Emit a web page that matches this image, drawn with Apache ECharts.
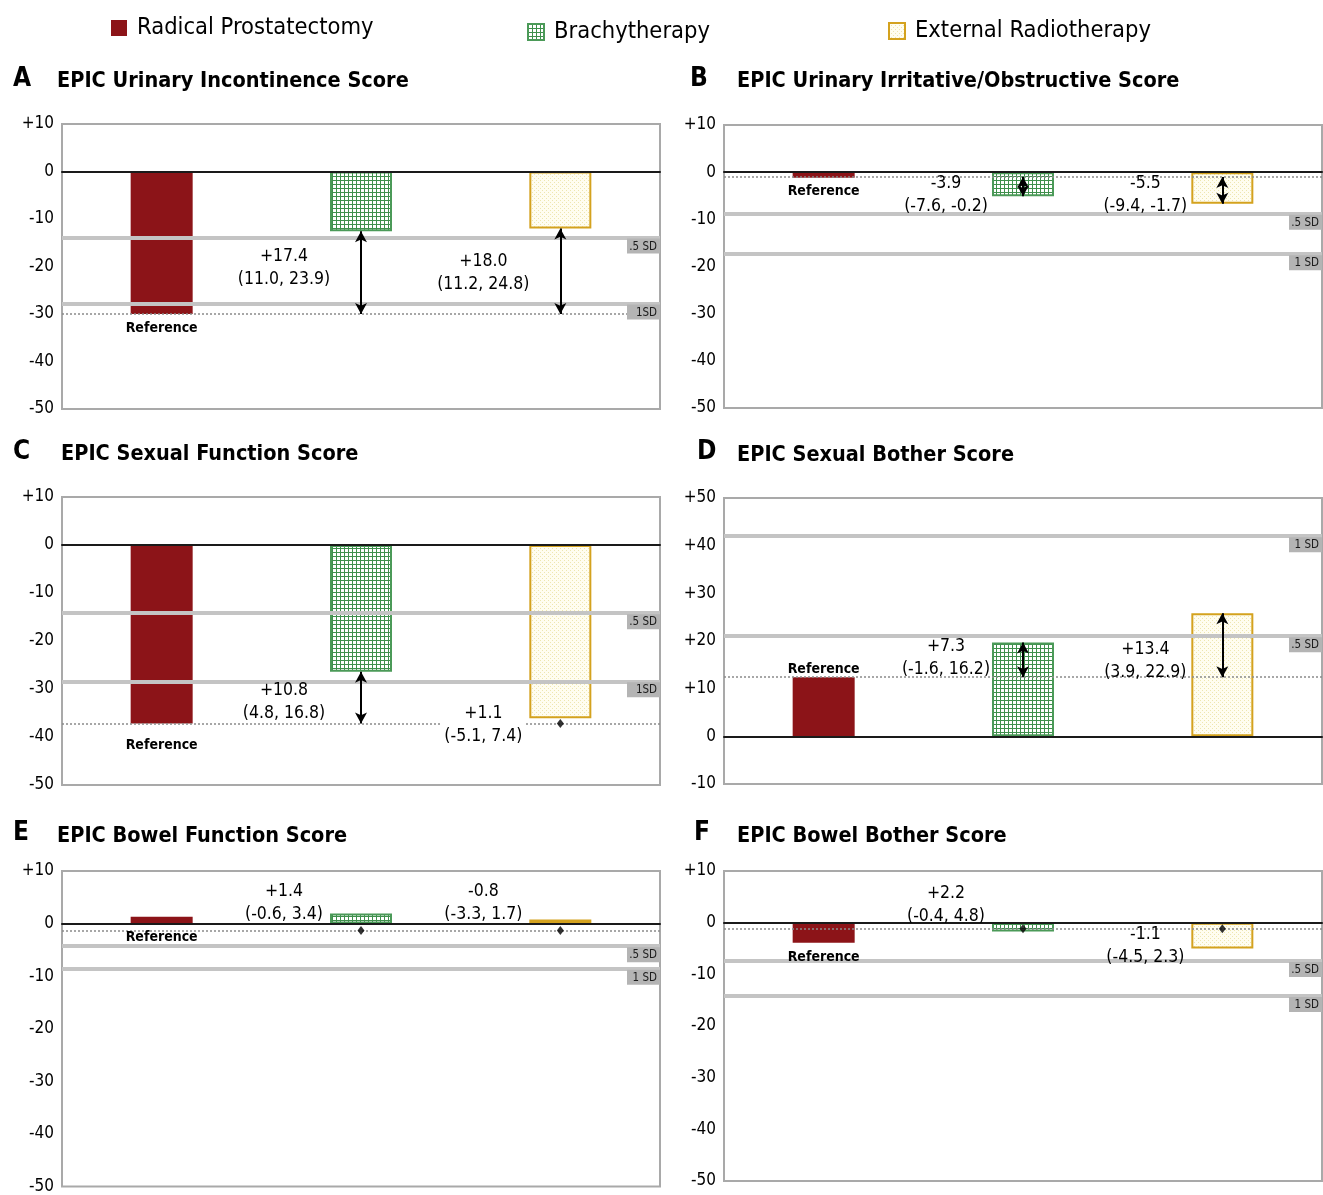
<!DOCTYPE html>
<html><head><meta charset="utf-8">
<script src="https://cdn.jsdelivr.net/npm/echarts@6/dist/echarts.min.js"></script>
<style>html,body{margin:0;padding:0;background:#fff}#c{width:1323px;height:1195px}</style>
</head><body><div id="c"></div>
<script>
const categories = ['Radical Prostatectomy', 'Brachytherapy', 'External Radiotherapy'];
const panelLetters = ['A', 'B', 'C', 'D', 'E', 'F'];
const panelTitles = ['EPIC Urinary Incontinence Score', 'EPIC Urinary Irritative/Obstructive Score', 'EPIC Sexual Function Score', 'EPIC Sexual Bother Score', 'EPIC Bowel Function Score', 'EPIC Bowel Bother Score'];
const axisMin = [-50, -50, -50, -10, -50, -50];
const axisMax = [10, 10, 10, 50, 10, 10];
const prostatectomyValues = [-30.0, -1.2, -37.2, 12.4, 1.3, -3.9];
const brachyValues = [-12.6, -5.1, -26.4, 19.7, 1.9, -1.7];
const ebrtValues = [-12.0, -6.7, -36.1, 25.8, 0.8, -5.0];
const referenceLevel = [-30.0, -1.0, -37.2, 12.4, -1.3, -1.2];
const halfSD = [-13.9, -8.8, -14.2, 21.0, -4.3, -7.4];
const oneSD = [-27.8, -17.4, -28.4, 42.0, -8.6, -14.2];
const halfSDLabels = ['.5 SD', '.5 SD', '.5 SD', '.5 SD', '.5 SD', '.5 SD'];
const oneSDLabels = ['1SD', '1 SD', '1SD', '1 SD', '1 SD', '1 SD'];
const brachyDiff = ['+17.4', '-3.9', '+10.8', '+7.3', '+1.4', '+2.2'];
const brachyCI = ['(11.0, 23.9)', '(-7.6, -0.2)', '(4.8, 16.8)', '(-1.6, 16.2)', '(-0.6, 3.4)', '(-0.4, 4.8)'];
const ebrtDiff = ['+18.0', '-5.5', '+1.1', '+13.4', '-0.8', '-1.1'];
const ebrtCI = ['(11.2, 24.8)', '(-9.4, -1.7)', '(-5.1, 7.4)', '(3.9, 22.9)', '(-3.3, 1.7)', '(-4.5, 2.3)'];
const brachyTextAt = [-20.3, -4.9, -32.7, 16.4, 3.9, 3.4];
const ebrtTextAt = [-21.4, -4.9, -37.4, 15.9, 3.9, -4.6];
const referenceTextAt = [-33.0, -4.0, -41.7, 14.0, -2.6, -6.8];
const brachyArrow = [true, true, true, true, false, false];
const ebrtArrow = [true, true, false, true, false, false];

// layout (pixels): grid box, letter/title centre positions
const layout = [
  {left: 62, top: 124, height: 285, lx: 13, lcy: 79, tx: 57, tcy: 81},
  {left: 724, top: 125, height: 283, lx: 690, lcy: 79, tx: 737, tcy: 81},
  {left: 62, top: 497, height: 288, lx: 13, lcy: 452, tx: 61, tcy: 454},
  {left: 724, top: 498, height: 286, lx: 697, lcy: 452, tx: 737, tcy: 455},
  {left: 62, top: 871, height: 318, lx: 13, lcy: 833, tx: 57, tcy: 836},
  {left: 724, top: 871, height: 310, lx: 694, lcy: 833, tx: 737, tcy: 836}
];
const FONT = "'DejaVu Sans Condensed', 'DejaVu Sans', sans-serif";
const LETTER_FS = 26, TITLE_FS = 21.5;
const TEXT_COLOR = '#000';

function makePattern(w, h, draw) {
  const c = document.createElement('canvas'); c.width = w; c.height = h;
  draw(c.getContext('2d')); return c;
}
const greenPattern = makePattern(4, 4, ctx => {
  ctx.fillStyle = '#3f8f4c'; ctx.fillRect(0, 0, 4, 4);
  ctx.fillStyle = '#ffffff'; ctx.fillRect(1, 1, 3, 3);
});
const yellowPattern = makePattern(4, 4, ctx => {
  ctx.fillStyle = '#fffdf0'; ctx.fillRect(0, 0, 4, 4);
  ctx.fillStyle = '#eee6b0'; ctx.fillRect(0, 0, 1, 1); ctx.fillRect(2, 2, 1, 1);
});
const styles = [
  {color: '#8c1418'},
  {color: {image: greenPattern, repeat: 'repeat'}, borderColor: '#4b9a58', borderWidth: 2},
  {color: {image: yellowPattern, repeat: 'repeat'}, borderColor: '#d4a21e', borderWidth: 2}
];

const grid = [], xAxis = [], yAxis = [], series = [], title = [];
const sdLabel = (txt) => ({
  show: true, formatter: txt, position: 'insideEndBottom', distance: [0, 1],
  backgroundColor: '#b4b4b4', color: '#1a1a1a', fontSize: 11.5, fontFamily: FONT,
  padding: [2, 3, 1, 3], width: 27, align: 'right'
});

for (let i = 0; i < 6; i++) {
  const L = layout[i];
  grid.push({left: L.left, width: 598, top: L.top, height: L.height, show: true,
    borderColor: '#a9a9a9', borderWidth: 2, backgroundColor: '#fff'});
  xAxis.push({type: 'category', gridIndex: i, data: categories, boundaryGap: true, z: 4,
    axisLabel: {show: false}, axisTick: {show: false},
    axisLine: {show: true, onZero: true, lineStyle: {color: '#1a1a1a', width: 2}}});
  yAxis.push({type: 'value', gridIndex: i, min: axisMin[i], max: axisMax[i], interval: 10,
    splitLine: {show: false}, axisLine: {show: false}, axisTick: {show: false},
    axisLabel: {formatter: v => v > 0 ? '+' + v : String(v), fontSize: 17, color: TEXT_COLOR, fontFamily: FONT, margin: 8}});
  title.push({text: panelLetters[i], left: L.lx, top: L.lcy - LETTER_FS / 2, padding: 0,
    textStyle: {fontSize: LETTER_FS, fontWeight: 'bold', color: TEXT_COLOR, fontFamily: FONT, lineHeight: LETTER_FS}});
  title.push({text: panelTitles[i], left: L.tx, top: L.tcy - TITLE_FS / 2, padding: 0,
    textStyle: {fontSize: TITLE_FS, fontWeight: 'bold', color: TEXT_COLOR, fontFamily: FONT, lineHeight: TITLE_FS}});

  const vals = [prostatectomyValues[i], brachyValues[i], ebrtValues[i]];
  for (let k = 0; k < 3; k++) {
    const d = ['-', '-', '-']; d[k] = vals[k];
    series.push({type: 'bar', name: categories[k], xAxisIndex: i, yAxisIndex: i, data: d,
      barWidth: 62, barGap: '-100%', itemStyle: styles[k], z: 2, silent: true});
  }

  // SD lines, reference level, arrows
  const lines = [
    {yAxis: halfSD[i], lineStyle: {color: '#c4c4c4', width: 4, type: 'solid'}, label: sdLabel(halfSDLabels[i])},
    {yAxis: oneSD[i], lineStyle: {color: '#c4c4c4', width: 4, type: 'solid'}, label: sdLabel(oneSDLabels[i])},
    {yAxis: referenceLevel[i], lineStyle: {color: '#8a8a8a', width: 1.5, type: [2, 2]}, label: {show: false}}
  ];
  const diamonds = [];
  [[brachyArrow[i], 1], [ebrtArrow[i], 2]].forEach(([isArrow, k]) => {
    if (isArrow) {
      lines.push([
        {coord: [categories[k], referenceLevel[i]], symbol: 'arrow', symbolSize: [9, 11],
          lineStyle: {color: '#000', width: 2, type: 'solid'}, label: {show: false}},
        {coord: [categories[k], vals[k]], symbol: 'arrow', symbolSize: [9, 11]}
      ]);
    } else {
      diamonds.push([categories[k], referenceLevel[i]]);
    }
  });
  series.push({type: 'line', xAxisIndex: i, yAxisIndex: i, data: [], z: 3, silent: true,
    markLine: {silent: true, symbol: ['none', 'none'], animation: false, data: lines}});
  series.push({type: 'scatter', xAxisIndex: i, yAxisIndex: i, z: 5, silent: true,
    symbol: 'diamond', symbolSize: [7, 9], itemStyle: {color: '#000'}, data: diamonds});

  // text annotations (symbol hidden, labels only)
  const lbl = {show: true, position: 'inside', color: TEXT_COLOR, textBorderWidth: 0, fontFamily: FONT,
    fontSize: 17.5, lineHeight: 23, offset: [-77, 0]};
  series.push({type: 'scatter', xAxisIndex: i, yAxisIndex: i, z: 6, silent: true,
    symbol: 'circle', symbolSize: 0, itemStyle: {color: '#000', opacity: 1},
    data: [
      {value: [categories[1], brachyTextAt[i]], label: Object.assign({}, lbl, {formatter: brachyDiff[i] + '\n' + brachyCI[i]})},
      {value: [categories[2], ebrtTextAt[i]], label: Object.assign({}, lbl, {formatter: ebrtDiff[i] + '\n' + ebrtCI[i]},
        i === 2 ? {backgroundColor: '#fff', padding: [0, 3]} : {})},
      {value: [categories[0], referenceTextAt[i]], label: {show: true, position: 'inside', formatter: 'Reference',
        color: TEXT_COLOR, textBorderWidth: 0, fontFamily: FONT, fontSize: 14, fontWeight: 'bold'}}
    ]});
}

const legendBase = {orient: 'horizontal', itemWidth: 16, itemHeight: 16, icon: 'rect', padding: 0, selectedMode: false,
  textStyle: {fontSize: 23.5, color: TEXT_COLOR, fontFamily: FONT, padding: [0, 0, 0, 5]}};
const legend = [
  Object.assign({}, legendBase, {data: [categories[0]], left: 111, top: 16}),
  Object.assign({}, legendBase, {data: [categories[1]], left: 527, top: 20}),
  Object.assign({}, legendBase, {data: [categories[2]], left: 888, top: 19})
];

const chart = echarts.init(document.getElementById('c'), null, {renderer: 'canvas'});
chart.setOption({animation: false, backgroundColor: '#fff', title, legend, grid, xAxis, yAxis, series});
</script></body></html>
